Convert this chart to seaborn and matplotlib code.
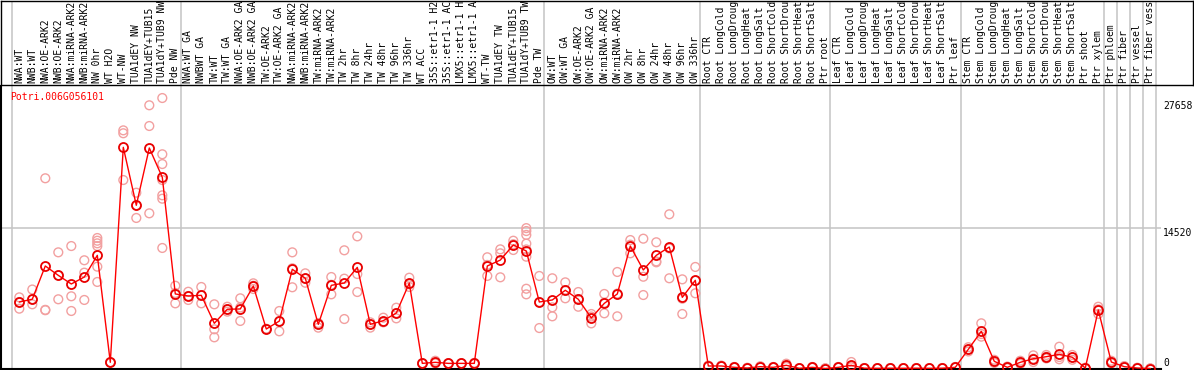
import numpy as np
import pandas as pd
import matplotlib
matplotlib.use("Agg")
import matplotlib.pyplot as plt
import matplotlib.transforms as mtrans
import seaborn as sns

# ---------------- data ----------------
title = "Potri.006G056101"

categories = [
    "NWA:WT", "NWB:WT", "NWA:OE-ARK2", "NWB:OE-ARK2", "NWA:miRNA-ARK2", "NWB:miRNA-ARK2",
    "NW 0hr", "WT H2O", "WT-NW", "TUA1dEY NW", "TUA1dEY+TUB15", "TUA1dY+TUB9 NW", "Pde NW",
    "NWA:WT GA", "NWBWT GA", "TW:WT", "TW:WT GA", "NWA:OE-ARK2 GA", "NWB:OE-ARK2 GA",
    "TW:OE-ARK2", "TW:OE-ARK2 GA", "NWA:miRNA-ARK2", "NWB:miRNA-ARK2", "TW:miRNA-ARK2",
    "TW:miRNA-ARK2", "TW 2hr", "TW 8hr", "TW 24hr", "TW 48hr", "TW 96hr", "TW 336hr",
    "WT ACC", "35S::etr1-1 H2", "35S::etr1-1 AC", "LMX5::etr1-1 H", "LMX5::etr1-1 A",
    "WT-TW", "TUA1dEY TW", "TUA1dEY+TUB15", "TUA1dY+TUB9 TW", "Pde TW",
    "OW:WT", "OW:WT GA", "OW:OE-ARK2", "OW:OE-ARK2 GA", "OW:miRNA-ARK2", "OW:miRNA-ARK2",
    "OW 2hr", "OW 8hr", "OW 24hr", "OW 48hr", "OW 96hr", "OW 336hr",
    "Root CTR", "Root LongCold", "Root LongDroug", "Root LongHeat", "Root LongSalt",
    "Root ShortCold", "Root ShortDrou", "Root ShortHeat", "Root ShortSalt", "Ptr root",
    "Leaf CTR", "Leaf LongCold", "Leaf LongDroug", "Leaf LongHeat", "Leaf LongSalt",
    "Leaf ShortCold", "Leaf ShortDrou", "Leaf ShortHeat", "Leaf ShortSalt", "Ptr leaf",
    "Stem CTR", "Stem LongCold", "Stem LongDroug", "Stem LongHeat", "Stem LongSalt",
    "Stem ShortCold", "Stem ShortDrou", "Stem ShortHeat", "Stem ShortSalt", "Ptr shoot",
    "Ptr xylem", "Ptr phloem", "Ptr fiber", "Ptr vessel", "Ptr fiber vess",
]

mean_values = [
    6870, 7160, 10590, 9620, 8730, 9450, 11690, 640, 22850, 16860, 22780, 19750, 7700,
    7490, 7560, 4670, 6120, 6150, 8520, 4080, 4900, 10250, 9320, 4560, 8590, 8830, 10450,
    4560, 4940, 5730, 8830, 530, 640, 530, 530, 530, 10590, 11200, 12760, 12140, 6870,
    7080, 8080, 7150, 5220, 6730, 7700, 12650, 10180, 11690, 12550, 7350, 9110,
    260, 260, 120, 50, 190, 120, 330, 20, 120, 0,
    120, 330, 30, 20, 30, 20, 30, 20, 30, 120,
    1980, 3840, 740, 120, 640, 1010, 1220, 1460, 1160, 50,
    6040, 670, 190, 50, 0,
]

replicate_values = [
    [7350, 6870, 6180], [8160, 7160, 6630], [19650, 6060, 6020], [12000, 9620, 7150],
    [12650, 7460, 5940], [11180, 9900, 7080], [13480, 13200, 12930, 12650, 10520, 8940],
    [640, 640, 640], [24600, 24300, 19470], [18160, 16860, 15550], [27190, 25050, 16030],
    [27940, 22130, 21120, 19470, 17890, 17540, 12450], [8550, 7800, 6730],
    [7930, 7490, 7080], [8420, 7560, 6730], [6630, 4050, 3220], [6380, 6120, 5870],
    [7250, 6300, 4910], [8800, 8550, 8210], [4100, 4080, 4060], [5940, 4900, 3840],
    [12000, 10350, 8390], [9830, 9270, 8860], [4700, 4560, 4220], [9450, 8650, 7660],
    [12210, 9280, 5110], [13650, 9760, 7900], [4770, 4560, 4220], [5250, 4800, 4770],
    [6280, 5730, 5180], [9380, 8700, 8420], [530, 530, 530], [800, 600, 530],
    [530, 530, 530], [530, 530, 530], [580, 530, 480], [11490, 10700, 9560],
    [12310, 11900, 9420], [13200, 12840, 12240],
    [14500, 14200, 13800, 12900, 12300, 11550, 8240, 7660], [9560, 6870, 4180],
    [9320, 6320, 5390], [8900, 8080, 7250], [7900, 7150, 6380], [5630, 5370, 4660],
    [7700, 6780, 5700], [9970, 7740, 5390], [13270, 12790, 11900], [13410, 9480, 7590],
    [13040, 11060, 10970], [15930, 12400, 9320], [9210, 7210, 5630], [10490, 9070, 7770],
    [300, 260, 220], [300, 260, 220], [160, 120, 80], [80, 50, 20], [230, 190, 150],
    [160, 120, 80], [500, 330, 160], [40, 20, 0], [160, 120, 80], [20, 0, 0],
    [160, 120, 80], [670, 200, 120], [50, 30, 10], [40, 20, 0], [50, 30, 10],
    [40, 20, 0], [50, 30, 10], [40, 20, 0], [50, 30, 10], [160, 120, 80],
    [2200, 1980, 1760], [4670, 3560, 3290], [900, 740, 580], [200, 120, 40],
    [800, 640, 480], [1360, 1010, 670], [1400, 1220, 1040], [2250, 1180, 950],
    [1400, 1160, 900], [80, 50, 20], [6380, 6110, 5630], [800, 670, 540],
    [250, 190, 130], [80, 50, 20], [0, 0, 0],
]

y_tick_values = [0, 14520, 27658]
# group separators are drawn after these categories
separator_after = ["Pde NW", "Pde TW", "OW 336hr", "Ptr root", "Ptr leaf",
                   "Ptr xylem", "Ptr phloem", "Ptr fiber", "Ptr vessel", "Ptr fiber vess"]

# ---------------- frames ----------------
pos = np.arange(len(categories))
df_mean = pd.DataFrame({"pos": pos, "value": mean_values})
rep_pos, rep_val = [], []
for i, reps in enumerate(replicate_values):
    for v in reps:
        rep_pos.append(i)
        rep_val.append(v)
df_rep = pd.DataFrame({"pos": rep_pos, "value": rep_val})

# ---------------- figure ----------------
sns.set_style("white")
plt.rcParams["font.family"] = ["DejaVu Sans Mono"]

W, H = 1194, 370
fig = plt.figure(figsize=(W / 100, H / 100), dpi=100)

x_left_px, x_right_px = 1, 1161
y_top_px, y_bot_px = 86, 369
ax = fig.add_axes([x_left_px / W, (H - y_bot_px) / H,
                   (x_right_px - x_left_px) / W, (y_bot_px - y_top_px) / H])
lab = fig.add_axes([1 / W, (H - 85) / H, (1193 - 1) / W, 84.5 / H])

px0, step = 19.3, 13.0
ax.set_xlim((x_left_px - px0) / step, (x_right_px - px0) / step)
lab.set_xlim((1 - px0) / step, (1193 - px0) / step)

per_px = 103.3
y0_px = 368.5
ax.set_ylim(-(y_bot_px - y0_px) * per_px, (y0_px - y_top_px) * per_px)
lab.set_ylim(0, 1)

grid_c = "#c4c4c4"
sep_positions = [-0.6] + [categories.index(c) + 0.4 for c in separator_after]
for s in sep_positions:
    ax.axvline(s, color=grid_c, lw=1.1, zorder=0)
    lab.axvline(s, color=grid_c, lw=1.1, zorder=0)
ax.axhline(y_tick_values[1], color=grid_c, lw=1.1, zorder=0)

rep_color = "#f2a0a0"
sns.scatterplot(data=df_rep, x="pos", y="value", ax=ax, marker="o", s=40,
                color=rep_color, linewidth=1.0, zorder=2, legend=False)
pts = ax.collections[-1]
pts.set_facecolor("none")
pts.set_edgecolor(rep_color)

sns.lineplot(data=df_mean, x="pos", y="value", ax=ax, color="#ff0000", lw=1.0,
             marker="o", markersize=6.5, markerfacecolor="none",
             markeredgecolor="#e80000", markeredgewidth=1.3, zorder=3)

ax.set_xlabel("")
ax.set_ylabel("")
ax.set_xticks([])
ax.set_yticks([])
for side in ["top", "right"]:
    ax.spines[side].set_visible(False)
for side in ["left", "bottom"]:
    ax.spines[side].set_color("black")
    ax.spines[side].set_linewidth(1.5)

lab.set_xticks([])
lab.set_yticks([])
for side in lab.spines:
    lab.spines[side].set_color("black")
    lab.spines[side].set_linewidth(1.0)

fs = 7.0
for i, c in zip(pos, categories):
    lab.text(i, 0.025, c, rotation=90, ha="center", va="bottom", fontsize=fs,
             color="black", clip_on=False)

ax.text((10 - x_left_px) / (x_right_px - x_left_px), (y_bot_px - 97) / (y_bot_px - y_top_px),
        title, transform=ax.transAxes, color="#ff0000", fontsize=fs,
        ha="left", va="center")

tr = mtrans.blended_transform_factory(ax.transAxes, ax.transData)
xt = (1163 - x_left_px) / (x_right_px - x_left_px)
for v in y_tick_values:
    ax.text(xt, v, str(v), transform=tr, fontsize=fs, color="black", ha="left",
            va="bottom" if v == 0 else "top", clip_on=False)

fig.savefig("out.png", dpi=100)
